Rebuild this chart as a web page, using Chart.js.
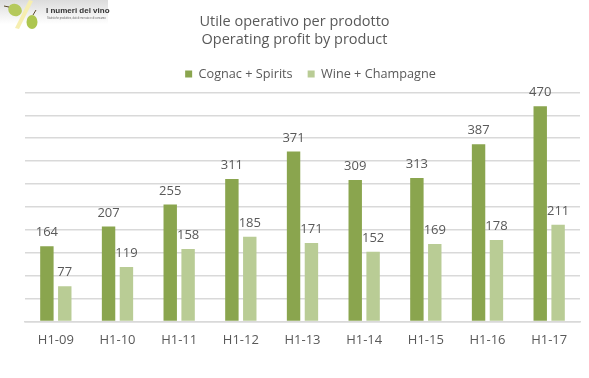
<!DOCTYPE html>
<html>
<head>
	<title>Utile operativo per prodotto</title>
	<script src="https://cdn.jsdelivr.net/npm/chart.js@4"></script>
	<style type="text/css">
		html, body { margin: 0; padding: 0; background: #fff; overflow: hidden; }
		#wrap { position: relative; width: 589px; height: 378px; }
		#logo { position: absolute; left: 0; top: 0; width: 108px; height: 24px; background: linear-gradient(to bottom, #dcdcdc, #ffffff); }
		#logo svg { position: absolute; left: 0; top: 0; }
		#logo b { position: absolute; left: 46px; top: 6px; font: bold 8px 'Liberation Sans', sans-serif; color: #333; white-space: nowrap; }
		#logo i { position: absolute; left: 47px; top: 17px; font: normal 2.6px 'Liberation Sans', sans-serif; color: #666; white-space: nowrap; }
	</style>
</head>
<body>
<div id="wrap">
	<canvas id="myChart" width="589" height="378"></canvas>
	<div id="logo">
		<svg width="60" height="32" viewBox="0 0 60 32">
			<polygon points="29,0 33,1 19,29 15,28" fill="#f6eeb0"/>
			<ellipse cx="15" cy="10" rx="7" ry="6" fill="#b5c95c" transform="rotate(25 15 10)"/>
			<ellipse cx="32" cy="22" rx="5.5" ry="7" fill="#adc64f"/>
			<path d="M33 15 L36 10" stroke="#5a4a2a" stroke-width="1"/>
			<path d="M9 7 L4 6" stroke="#5a4a2a" stroke-width="1"/>
		</svg>
		<b>I numeri del vino</b>
		<i>Statistiche produttive, dati di mercato e di consumo</i>
	</div>
</div>
<script>
	const categories = ["H1-09", "H1-10", "H1-11", "H1-12", "H1-13", "H1-14", "H1-15", "H1-16", "H1-17"];
	const cognac = [164, 207, 255, 311, 371, 309, 313, 387, 470];
	const wine = [77, 119, 158, 185, 171, 152, 169, 178, 211];
	const textFont = "'Open Sans', sans-serif";

	// value labels above the bars
	const barLabels = {
		id: 'barLabels',
		afterDatasetsDraw(chart) {
			const ctx = chart.ctx;
			ctx.save();
			ctx.font = "13px " + textFont;
			ctx.fillStyle = "#595959";
			ctx.textAlign = "center";
			ctx.textBaseline = "bottom";
			chart.data.datasets.forEach((ds, i) => {
				chart.getDatasetMeta(i).data.forEach((bar, j) => {
					ctx.fillText(ds.data[j], bar.x, bar.y - 7);
				});
			});
			ctx.restore();
		}
	};

	// legend sits right of the title in the original
	const legendShift = {
		id: 'legendShift',
		afterLayout(chart) {
			chart.legend.left += 16;
			chart.legend.right += 16;
			chart.legend.top -= 2;
			chart.legend.bottom -= 2;
		}
	};

	new Chart(document.getElementById("myChart").getContext('2d'), {
		type: 'bar',
		data: {
			labels: categories,
			datasets: [
				{ label: "Cognac + Spirits", data: cognac, backgroundColor: "#8aa54e" },
				{ label: "Wine + Champagne", data: wine, backgroundColor: "#b9cc95" }
			]
		},
		options: {
			responsive: false,
			animation: false,
			categoryPercentage: 0.58,
			barPercentage: 0.75,
			layout: { padding: { left: 9, right: 9, top: 12, bottom: 27 } },
			plugins: {
				tooltip: { enabled: false },
				title: {
					display: true,
					text: ["Utile operativo per prodotto", "Operating profit by product"],
					color: "#595959",
					font: { family: textFont, size: 14.5, weight: 'normal', lineHeight: 1.3 },
					padding: { top: 0, bottom: 5 }
				},
				legend: {
					position: 'top',
					labels: {
						boxWidth: 7, boxHeight: 7, color: "#595959", padding: 15,
						font: { family: textFont, size: 12.7 }
					}
				}
			},
			scales: {
				x: {
					grid: { display: false },
					border: { color: "#d9d9d9", width: 1.5 },
					ticks: { color: "#595959", font: { family: textFont, size: 13 }, padding: 3, maxRotation: 0 }
				},
				y: {
					min: 0, max: 500,
					afterFit(scale) { scale.width = 16; },
					grid: { color: "#d9d9d9", lineWidth: 1.5, drawTicks: false },
					border: { display: false },
					ticks: { display: false, stepSize: 50 }
				}
			}
		},
		plugins: [barLabels, legendShift]
	});
</script>
</body>
</html>
